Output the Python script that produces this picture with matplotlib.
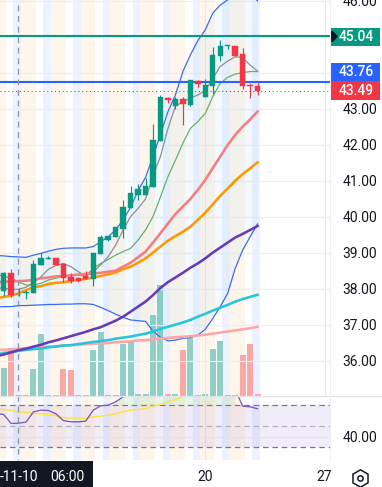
import numpy as np
import matplotlib
matplotlib.use("Agg")
import matplotlib.pyplot as plt
from matplotlib.patches import Rectangle, Polygon

plt.rcParams['font.family'] = ['Roboto', 'DejaVu Sans']

# candles, oldest first
opens = [37.95, 38.44, 37.85, 37.90, 37.90, 38.68, 38.84, 38.86, 38.69, 38.33, 38.30, 38.37,
         38.29, 38.97, 39.36, 39.45, 39.67, 40.25, 40.61, 40.61, 40.84, 42.12, 43.30, 43.07,
         43.28, 43.11, 43.78, 43.34, 43.64, 44.47, 44.75, 44.75, 44.53, 43.67, 43.64]
closes = [38.44, 37.83, 37.87, 37.92, 38.69, 38.85, 38.86, 38.68, 38.31, 38.22, 38.22, 38.28,
          39.00, 39.44, 39.47, 39.72, 40.28, 40.67, 40.78, 40.86, 42.14, 43.33, 43.25, 43.28,
          43.14, 43.81, 43.69, 43.67, 44.50, 44.75, 44.78, 44.47, 43.64, 43.65, 43.49]
highs = [38.48, 38.55, 38.02, 37.97, 38.80, 39.01, 38.93, 38.87, 38.70, 38.44, 38.32, 38.49,
         39.00, 39.50, 39.47, 39.72, 40.47, 40.86, 40.92, 41.07, 42.58, 43.39, 43.32, 43.32,
         43.32, 43.81, 43.81, 43.82, 44.73, 44.92, 44.78, 44.75, 44.69, 43.71, 43.76]
lows = [37.81, 37.79, 37.80, 37.73, 37.90, 38.67, 38.83, 38.67, 38.19, 38.17, 38.19, 38.27,
        38.08, 38.97, 39.34, 39.44, 39.43, 40.25, 40.47, 40.60, 40.84, 42.12, 43.18, 43.01,
        42.56, 43.08, 43.62, 43.34, 43.42, 44.33, 44.68, 44.47, 43.55, 43.31, 43.39]
volumes = [84, 143, 3, 3, 81, 186, 3, 3, 81, 78, 3, 3, 138, 192, 3, 3, 156, 161, 6, 6, 243, 333,
           6, 6, 138, 173, 3, 6, 141, 165, 3, 3, 123, 156, 6]

# moving averages, first value is the bar just off the left edge
ma_pink = [38.19, 38.20, 38.21, 38.22, 38.23, 38.25, 38.30, 38.32, 38.35, 38.36, 38.38, 38.40, 38.42,
           38.43, 38.45, 38.48, 38.51, 38.62, 38.73, 38.88, 39.04, 39.29, 39.55, 39.82, 40.08, 40.29,
           40.50, 40.75, 41.03, 41.36, 41.68, 42.00, 42.28, 42.51, 42.71, 42.93]
ma_orange = [37.74, 37.78, 37.81, 37.88, 37.97, 38.05, 38.08, 38.14, 38.17, 38.19, 38.22, 38.25, 38.28,
             38.32, 38.36, 38.41, 38.46, 38.55, 38.62, 38.73, 38.85, 39.01, 39.18, 39.34, 39.47, 39.59,
             39.73, 39.92, 40.12, 40.35, 40.59, 40.79, 41.01, 41.19, 41.35, 41.52]
ma_purple = [36.13, 36.18, 36.24, 36.30, 36.34, 36.40, 36.45, 36.52, 36.57, 36.63, 36.69, 36.75, 36.81,
             36.88, 36.94, 37.03, 37.12, 37.23, 37.37, 37.51, 37.65, 37.83, 38.03, 38.19, 38.32, 38.45,
             38.59, 38.71, 38.85, 39.01, 39.15, 39.29, 39.43, 39.53, 39.64, 39.75]
ma_cyan = [36.19, 36.22, 36.25, 36.28, 36.31, 36.33, 36.35, 36.38, 36.40, 36.43, 36.44, 36.47, 36.50,
           36.53, 36.55, 36.58, 36.62, 36.65, 36.68, 36.72, 36.76, 36.82, 36.89, 36.95, 37.01, 37.07,
           37.14, 37.23, 37.31, 37.40, 37.48, 37.56, 37.65, 37.72, 37.78, 37.84]
ma_salmon = [36.30, 36.31, 36.33, 36.34, 36.36, 36.37, 36.39, 36.40, 36.41, 36.43, 36.44, 36.45, 36.47,
             36.48, 36.49, 36.50, 36.52, 36.53, 36.55, 36.57, 36.58, 36.60, 36.62, 36.64, 36.66, 36.67,
             36.69, 36.71, 36.73, 36.76, 36.79, 36.82, 36.85, 36.88, 36.91, 36.95]
ma_gray = [38.03, 38.02, 37.99, 37.99, 38.05, 38.18, 38.34, 38.55, 38.65, 38.71, 38.62, 38.48, 38.36,
           38.48, 38.67, 38.90, 39.22, 39.64, 40.01, 40.24, 40.50, 41.14, 41.68, 42.46, 43.08, 43.20,
           43.30, 43.39, 43.51, 43.85, 44.18, 44.33, 44.45, 44.43, 44.22, 44.05]
ma_green = [38.40, 38.36, 38.30, 38.20, 38.11, 38.11, 38.16, 38.25, 38.30, 38.36, 38.39, 38.38, 38.36,
            38.57, 38.71, 38.82, 38.94, 39.04, 39.13, 39.36, 39.64, 40.01, 40.56, 41.12, 41.58, 42.05,
            42.46, 42.65, 42.88, 43.34, 43.71, 43.88, 43.97, 44.01, 44.04, 44.04]
bb_upper = [38.93, 38.92, 38.90, 38.89, 38.88, 38.94, 38.99, 39.05, 39.10, 39.13, 39.14, 39.14, 39.14,
            39.18, 39.31, 39.45, 39.64, 39.92, 40.27, 40.73, 41.10, 41.68, 42.30, 42.93, 43.39, 44.04,
            44.50, 44.90, 45.20, 45.66, 45.89, 46.03, 46.20, 46.25, 46.20, 46.00]
bb_lower = [37.50, 37.51, 37.51, 37.54, 37.54, 37.55, 37.56, 37.57, 37.57, 37.58, 37.58, 37.59, 37.59,
            37.57, 37.49, 37.40, 37.30, 37.21, 37.14, 37.12, 37.10, 36.83, 36.66, 36.56, 36.58, 36.63,
            36.65, 36.72, 36.88, 37.18, 37.51, 37.88, 38.57, 39.08, 39.45, 39.81]

rsi = [62.0, 61.0, 52.4, 52.7, 53.7, 63.5, 65.1, 64.8, 61.6, 55.2, 54.0, 54.0, 54.6, 65.1, 69.2, 69.9,
       73.0, 77.8, 80.0, 82.0, 82.0, 85.0, 88.0, 85.0, 84.0, 80.0, 84.0, 82.0, 80.0, 84.0, 86.0, 86.0,
       84.8, 68.9, 68.3, 66.4]
rsi_ma = [66.0, 65.7, 64.8, 63.5, 62.9, 61.9, 61.3, 61.0, 59.7, 58.1, 57.5, 57.5, 57.5, 58.7, 59.4, 60.3,
          61.6, 63.5, 65.1, 65.7, 66.7, 68.9, 70.5, 72.7, 75.3, 77.8, 79.4, 81.0, 82.0, 83.0, 84.0, 85.0,
          85.0, 84.0, 83.0, 82.0]

price_ticks = [36, 37, 38, 39, 40, 41, 42, 43, 44, 45, 46]
price_labels = ['36.00', '37.00', '38.00', '39.00', '40.00', '41.00', '42.00', '43.00', '', '', '46.00']
resistance = 45.04
support = 43.76
last_price = 43.49

W, H = 382, 487
PW = 330  # right edge of the panes
FS = 10


def px(v):
    return (v - 3.6) / 7.47


def box(top, bottom, right=PW):
    return [0, 1 - bottom / H, right / W, (bottom - top) / H]


fig = plt.figure(figsize=(W / 100, H / 100), dpi=100, facecolor='white')

# volume and session bands sit behind the price axes
ax_vol = fig.add_axes(box(0, 396))
ax = ax_vol.twinx()
ax_vol.set_zorder(1)
ax.set_zorder(2)
ax.patch.set_visible(False)
ax_rsi = fig.add_axes(box(396, 460))

n = len(opens)
idx = np.arange(n)
line_x = np.arange(-1, n)


def bands(a):
    for i in idx:
        if i % 4 == 2:
            a.axvspan(i - 0.7, i + 0.3, color='#edf2fe', lw=0, zorder=0)
        elif i % 4 != 1:
            a.axvspan(i - 0.7, i + 0.3, color='#fff6eb', lw=0, zorder=0)


bands(ax_vol)
bands(ax_rsi)

xlim = (px(0), px(PW))
ax_vol.set_xlim(xlim)
ax_vol.set_ylim(0, 1188)
ax_vol.axis('off')
vol_colors = ['#8fcfc5' if c >= o else '#f8a8a6' for o, c in zip(opens, closes)]
ax_vol.bar(idx, volumes, width=0.8, color=vol_colors, linewidth=0, zorder=1)

ax.set_xlim(xlim)
ax.set_ylim(43 - 287 / 36, 43 + 109 / 36)
ax.yaxis.tick_right()
ax.set_yticks(price_ticks)
ax.set_yticklabels(price_labels, fontsize=FS, color='#131722')
ax.tick_params(axis='y', length=0, pad=9)
ax.set_xticks([])
ax.grid(axis='y', color='#eceef3', lw=0.9, zorder=0)
ax.set_axisbelow(True)
for s in ax.spines.values():
    s.set_visible(False)
for v in [27, 43]:
    ax.axvline(v, color='#e6e8ee', lw=0.8, zorder=0)

ax.fill_between(line_x, bb_lower, bb_upper, color='#2196f3', alpha=0.05, lw=0, zorder=1)
ax.plot(line_x, bb_upper, color='#3a6cf4', lw=0.9, zorder=3)
ax.plot(line_x, bb_lower, color='#3a6cf4', lw=0.9, zorder=3)
ax.plot(line_x, ma_gray, color='#8f8f8f', lw=0.9, zorder=3)
ax.plot(line_x, ma_green, color='#63b26a', lw=0.9, zorder=3)
ax.plot(line_x, ma_salmon, color='#fda6a6', lw=1.85, zorder=3)
ax.plot(line_x, ma_cyan, color='#26c6da', lw=1.85, zorder=3)
ax.plot(line_x, ma_purple, color='#673ab7', lw=1.85, zorder=3)
ax.plot(line_x, ma_orange, color='#ff9800', lw=1.85, zorder=3)
ax.plot(line_x, ma_pink, color='#f77c80', lw=1.85, zorder=3)

ax.axhline(resistance, color='#089981', lw=1.5, zorder=4)
ax.axhline(support, color='#2962ff', lw=1.5, zorder=4)
ax.axhline(last_price, color='#f23645', lw=0.8, ls=(0, (1, 2.5)), zorder=4)

colors = ['#089981' if c >= o else '#f23645' for o, c in zip(opens, closes)]
ax.vlines(idx, lows, highs, colors=colors, lw=0.85, zorder=5)
bottoms = np.minimum(opens, closes)
heights = np.abs(np.array(closes) - np.array(opens))
ax.bar(idx, heights, bottom=bottoms, width=0.72, color=colors, edgecolor=colors, lw=0.3, zorder=5)

# oscillator pane
ax_rsi.set_xlim(xlim)
ax_rsi.set_ylim(30 - 13 / 1.05, 70 + 9 / 1.05)
ax_rsi.patch.set_visible(False)
for s in ax_rsi.spines.values():
    s.set_visible(False)
ax_rsi.axhspan(30, 70, color='#7e57c2', alpha=0.1, lw=0, zorder=1)
ax_rsi.axhline(70, color='#787b86', lw=0.9, ls=(0, (4.5, 3)), zorder=2)
ax_rsi.axhline(50, color='#b2b5be', lw=0.9, ls=(0, (4.5, 3)), zorder=2)
ax_rsi.axhline(30, color='#787b86', lw=0.9, ls=(0, (4.5, 3)), zorder=2)
ax_rsi.axhline(40, color='#e3e2ea', lw=0.8, zorder=2)
ax_rsi.axvline(27, color='#e6e8ee', lw=0.8, zorder=0)
rsi_arr = np.array(rsi)
ax_rsi.fill_between(line_x, 70, rsi_arr, where=rsi_arr >= 70, color='#4caf50', alpha=0.13, lw=0, zorder=2)
ax_rsi.plot(line_x, rsi_ma, color='#fbe44a', lw=1.1, zorder=3)
ax_rsi.plot(line_x, rsi, color='#7e57c2', lw=0.95, zorder=4)
ax_rsi.yaxis.tick_right()
ax_rsi.set_yticks([40])
ax_rsi.set_yticklabels(['40.00'], fontsize=FS, color='#131722')
ax_rsi.tick_params(axis='y', length=0, pad=9)
ax_rsi.set_xticks([])

# everything around the panes, in pixels
over = fig.add_axes([0, 0, 1, 1], zorder=5)
over.set_xlim(0, W)
over.set_ylim(H, 0)
over.axis('off')
over.plot([18.4, 18.4], [5, 460], color='#9598a1', lw=0.95, ls=(0, (4.5, 3.5)))
over.plot([0, W], [396.3, 396.3], color='#e0e3eb', lw=0.9)
over.plot([PW, PW], [0, 461], color='#eef0f4', lw=0.8)

for top, bottom, col, label in [(28, 46, '#089981', '45.04'), (63, 81, '#2962ff', '43.76'), (81, 100, '#f23645', '43.49')]:
    over.add_patch(Rectangle((330, top), 50, bottom - top, color=col, lw=0))
    over.text(356.5, (top + bottom) / 2 + 0.3, label, color='white', fontsize=FS, weight='medium', ha='center', va='center')
over.add_patch(Polygon([(330, 31), (333, 31), (338, 36.5), (333, 42), (330, 42)], color='#131722', lw=0))

over.add_patch(Rectangle((0, 461), 93, 26, color='#131722', lw=0))
over.text(0, 477, '-11-10', color='white', fontsize=FS, ha='left', va='center')
over.text(50, 477, '06:00', color='white', fontsize=FS, ha='left', va='center')
over.text(205, 477, '20', color='#131722', fontsize=FS, ha='center', va='center')
over.text(324, 477, '27', color='#131722', fontsize=FS, ha='center', va='center', clip_on=True,
          clip_path=Rectangle((0, 0), PW, H, transform=over.transData))
over.plot([360], [478], marker='h', ms=12.5, mfc='none', mec='#131722', mew=1.1)
over.plot([360], [478], marker='o', ms=3.8, mfc='none', mec='#131722', mew=1.1)

fig.savefig('out.png', dpi=100)
